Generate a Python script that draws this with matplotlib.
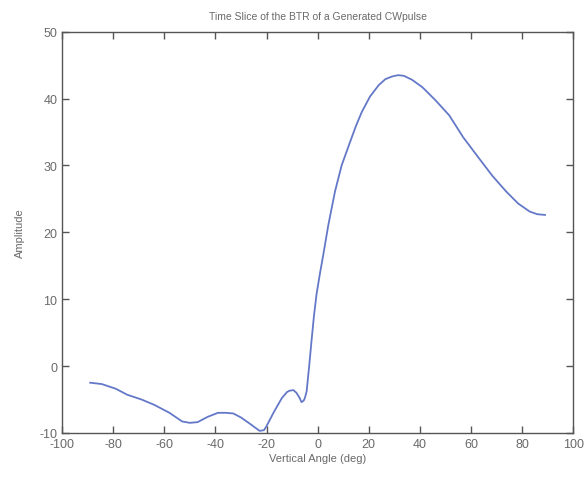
import matplotlib
matplotlib.use("Agg")
import matplotlib.pyplot as plt

angle = [-89, -84.5, -79, -74.5, -69, -64, -58, -53, -50, -47, -43, -39, -36, -33, -30,
         -27, -24.5, -22.7, -21, -20, -17, -14, -12, -11, -9.5, -8.3, -7, -6.3, -5.5, -5,
         -4.3, -3.3, -2.4, -1.4, -0.4, 0.9, 2.2, 4.2, 6.8, 9.4, 12.7, 15, 17.3, 20.5, 23.9,
         26.5, 29.1, 31.5, 33.8, 37, 41, 46, 51.5, 57, 63.3, 68.5, 73.8, 78.5, 83, 86, 89]
amplitude = [-2.5, -2.7, -3.4, -4.3, -5.0, -5.8, -7.0, -8.3, -8.5, -8.4, -7.6, -7.0, -7.0, -7.1, -7.7,
             -8.5, -9.2, -9.7, -9.6, -9.0, -6.8, -4.8, -3.9, -3.7, -3.6, -4.0, -4.8, -5.4, -5.2, -4.8,
             -3.8, 0.0, 3.7, 7.6, 10.8, 13.8, 16.6, 21.1, 26.1, 30.0, 33.5, 35.9, 38.0, 40.3, 42.0,
             42.9, 43.3, 43.5, 43.4, 42.8, 41.7, 39.8, 37.5, 34.2, 31.0, 28.4, 26.1, 24.3, 23.1, 22.7, 22.6]

title = "Time Slice of the BTR of a Generated CWpulse"
xlabel = "Vertical Angle (deg)"
ylabel = "Amplitude"
xticks = [-100, -80, -60, -40, -20, 0, 20, 40, 60, 80, 100]
yticks = [-10, 0, 10, 20, 30, 40, 50]

plt.rcParams['font.family'] = ['Liberation Sans', 'DejaVu Sans']
plt.rcParams['axes.unicode_minus'] = False
txt = '#6a6a6a'

fig = plt.figure(figsize=(5.86, 4.81), dpi=100)
ax = fig.add_axes([0.106, 0.098, 0.872, 0.834])
ax.plot(angle, amplitude, color='#6478c8', linewidth=1.3)
ax.set_xlim(-100, 100)
ax.set_ylim(-10, 50)
ax.set_xticks(xticks)
ax.set_yticks(yticks)
ax.tick_params(direction='in', top=True, right=True, length=5, width=1,
               colors='#555555', labelcolor=txt, labelsize=9)
for s in ax.spines.values():
    s.set_color('#555555')
    s.set_linewidth(1.0)
ax.set_title(title, fontsize=7.5, color=txt, pad=9)
ax.set_xlabel(xlabel, fontsize=8, color=txt, labelpad=2)
ax.set_ylabel(ylabel, fontsize=8, color=txt, labelpad=10)

fig.savefig("out.png", dpi=100)
